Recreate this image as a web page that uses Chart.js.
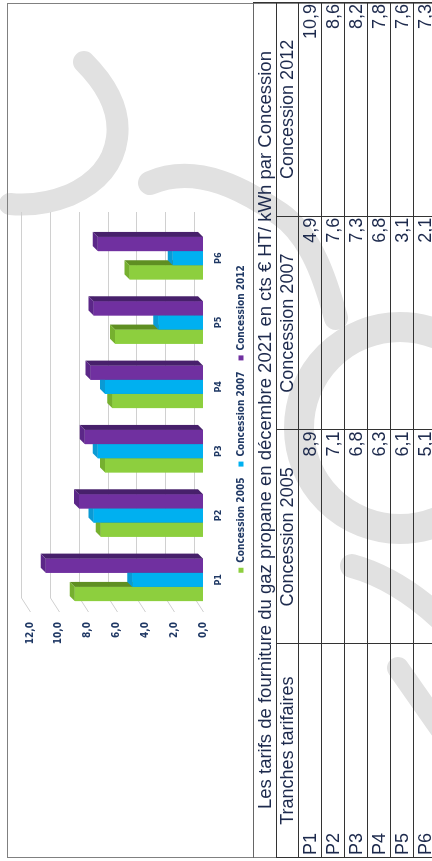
<!DOCTYPE html>
<html lang="fr">
<head>
<meta charset="utf-8">
<title>Tarifs gaz propane</title>
<script src="https://cdn.jsdelivr.net/npm/chart.js@4.4.1/dist/chart.umd.min.js"></script>
<style>
  html, body { margin: 0; padding: 0; background: #fff; }
  body { width: 432px; height: 861px; overflow: hidden; position: relative; }
  #mark { position: absolute; left: 0; top: 0; z-index: 0; }
  /* The sheet is laid out landscape (861 x 432) and turned a quarter turn */
  #stage {
    position: absolute; left: 0; top: 0; z-index: 1;
    width: 861px; height: 432px;
    transform-origin: 0 0;
    transform: translate(0, 861px) rotate(-90deg);
  }
  #frame {
    position: absolute; left: 3px; top: 7px; width: 855px; height: 440px;
    border-top: 1.5px solid #808080; border-left: 1.5px solid #808080; border-right: 1.5px solid #808080;
    box-sizing: border-box;
  }
  #chartBox { position: absolute; left: 0; top: 8px; width: 861px; height: 248px; }
  #tab {
    position: absolute; left: 3px; top: 253px; width: 856px;
    border-collapse: collapse; table-layout: fixed;
    font-family: "Liberation Sans", Arial, sans-serif; color: #1d2a4d;
  }
  #tab td { border: 1px solid #333; padding: 0 2px; font-size: 18px; height: 22px; line-height: 22px; white-space: nowrap; overflow: hidden; }
  #tab td.num { text-align: right; padding-right: 1px; }
  #tab td.cat { text-align: left; }
  #tab tr.title td { text-align: center; font-size: 18.5px; border-top-color: #666; border-left-color: #808080; }
  #tab tr.head td { text-align: center; height: 21px; line-height: 21px; }
</style>
</head>
<body>
<!-- faint logo printed behind the sheet -->
<svg id="mark" width="432" height="861" viewBox="0 0 432 861">
  <g fill="none" stroke="#e1e1e1" stroke-linecap="round">
    <path d="M84,62 Q122,100 117,138 Q112,176 70,195 Q40,207 10,204" stroke-width="22"/>
    <path d="M150,183 C198,162 248,192 280,214 S326,282 336,318" stroke-width="24"/>
    <circle cx="400" cy="428" r="101" stroke-width="30"/>
    <path d="M352,566 Q396,578 440,618" stroke-width="24"/>
    <path d="M398,668 L440,728" stroke-width="22"/>
  </g>
</svg>
<div id="stage">
  <div id="frame"></div>
  <div id="chartBox"><canvas id="c" width="861" height="248"></canvas></div>
  <table id="tab"></table>
</div>
<script>
// Tarifs par tranche (cts € HT / kWh), décembre 2021
const tranches = ['P1', 'P2', 'P3', 'P4', 'P5', 'P6'];
const concession2005 = [8.9, 7.1, 6.8, 6.3, 6.1, 5.1];
const concession2007 = [4.9, 7.6, 7.3, 6.8, 3.1, 2.1];
const concession2012 = [10.9, 8.6, 8.2, 7.8, 7.6, 7.3];
const seriesNames = ['Concession 2005', 'Concession 2007', 'Concession 2012'];
const yTickValues = [0, 2, 4, 6, 8, 10, 12];
const tableTitle = 'Les tarifs de fourniture du gaz propane en décembre 2021 en cts € HT/ kWh par Concession';
const firstColumnHeader = 'Tranches tarifaires';

const frontColors = ['#8dcf3e', '#00b0f0', '#7030a0'];
const sideColors = ['#5f8f22', '#0083b8', '#47206b'];
const topColors = ['#76b02f', '#0a9ad4', '#5b2788'];
const inkChart = '#1f3864';
const chartFont = "'DejaVu Sans Condensed', 'Liberation Sans Narrow', 'Roboto Condensed', Arial, sans-serif";

const fmt = v => v.toFixed(1).replace('.', ',');

// ---- table under the chart ----
(function buildTable() {
  const tab = document.getElementById('tab');
  const cols = document.createElement('colgroup');
  for (let i = 0; i < 4; i++) { const c = document.createElement('col'); c.style.width = '25%'; cols.appendChild(c); }
  tab.appendChild(cols);
  const tr0 = tab.insertRow(); tr0.className = 'title';
  const t = tr0.insertCell(); t.colSpan = 4; t.textContent = tableTitle;
  const tr1 = tab.insertRow(); tr1.className = 'head';
  [firstColumnHeader, ...seriesNames].forEach(h => { tr1.insertCell().textContent = h; });
  const series = [concession2005, concession2007, concession2012];
  tranches.forEach((p, i) => {
    const tr = tab.insertRow();
    const c0 = tr.insertCell(); c0.className = 'cat'; c0.textContent = p;
    series.forEach(s => { const c = tr.insertCell(); c.className = 'num'; c.textContent = fmt(s[i]); });
  });
})();

// ---- 3D look: back-wall grid and bar faces ----
const DEPTH_X = 14, DEPTH_Y = 9;   // back wall offset
const BAR_D = 5;                   // bar face depth

const wallGrid = {
  id: 'wallGrid',
  beforeDatasetsDraw(chart) {
    const { ctx, chartArea: { left, right } } = chart;
    const ys = chart.scales.y;
    ctx.save();
    ctx.strokeStyle = '#d0d0d0';
    ctx.lineWidth = 1;
    ys.ticks.forEach(t => {
      const y = Math.round(ys.getPixelForValue(t.value)) + 0.5;
      ctx.beginPath();
      ctx.moveTo(left, y);
      ctx.lineTo(left + DEPTH_X, y - DEPTH_Y);
      ctx.lineTo(right + DEPTH_X, y - DEPTH_Y);
      ctx.stroke();
    });
    ctx.restore();
  }
};

const barFaces = {
  id: 'barFaces',
  afterDatasetsDraw(chart) {
    const ctx = chart.ctx;
    ctx.save();
    chart.data.datasets.forEach((ds, i) => {
      const meta = chart.getDatasetMeta(i);
      meta.data.forEach(el => {
        el.draw(ctx);
        const { x, y, base, width } = el;
        const l = x - width / 2, r = x + width / 2;
        // side face
        ctx.fillStyle = sideColors[i];
        ctx.beginPath();
        ctx.moveTo(r, y); ctx.lineTo(r + BAR_D, y - BAR_D);
        ctx.lineTo(r + BAR_D, base - BAR_D); ctx.lineTo(r, base);
        ctx.closePath(); ctx.fill();
        // top face
        ctx.fillStyle = topColors[i];
        ctx.beginPath();
        ctx.moveTo(l, y); ctx.lineTo(l + BAR_D, y - BAR_D);
        ctx.lineTo(r + BAR_D, y - BAR_D); ctx.lineTo(r, y);
        ctx.closePath(); ctx.fill();
      });
    });
    ctx.restore();
  }
};

new Chart(document.getElementById('c'), {
  type: 'bar',
  data: {
    labels: tranches,
    datasets: [
      { label: seriesNames[0], data: concession2005, backgroundColor: frontColors[0] },
      { label: seriesNames[1], data: concession2007, backgroundColor: frontColors[1] },
      { label: seriesNames[2], data: concession2012, backgroundColor: frontColors[2] }
    ]
  },
  options: {
    responsive: false,
    animation: false,
    devicePixelRatio: 1,
    datasets: { bar: { categoryPercentage: 0.66, barPercentage: 1.0, borderWidth: 0 } },
    layout: { padding: { left: 209, right: 226, top: 22, bottom: 0 } },
    scales: {
      x: {
        grid: { display: false, drawTicks: false }, border: { display: false },
        ticks: { padding: 10, color: inkChart, font: { family: chartFont, size: 9, weight: 'bold' } },
        afterFit(s) { s.height = 22; }
      },
      y: {
        min: 0, max: 12,
        afterBuildTicks(s) { s.ticks = yTickValues.map(v => ({ value: v })); },
        grid: { display: false, drawTicks: false }, border: { display: false },
        ticks: {
          padding: 10, color: inkChart,
          font: { family: chartFont, size: 10, weight: 'bold' },
          callback: v => fmt(v)
        },
        afterFit(s) { s.width = 40; }
      }
    },
    plugins: {
      legend: {
        position: 'bottom',
        fullSize: false,
        labels: {
          boxWidth: 5, boxHeight: 5, padding: 11, color: inkChart,
          font: { family: chartFont, size: 10, weight: 'bold' }
        }
      },
      tooltip: { enabled: false }
    }
  },
  plugins: [wallGrid, barFaces]
});
</script>
</body>
</html>
